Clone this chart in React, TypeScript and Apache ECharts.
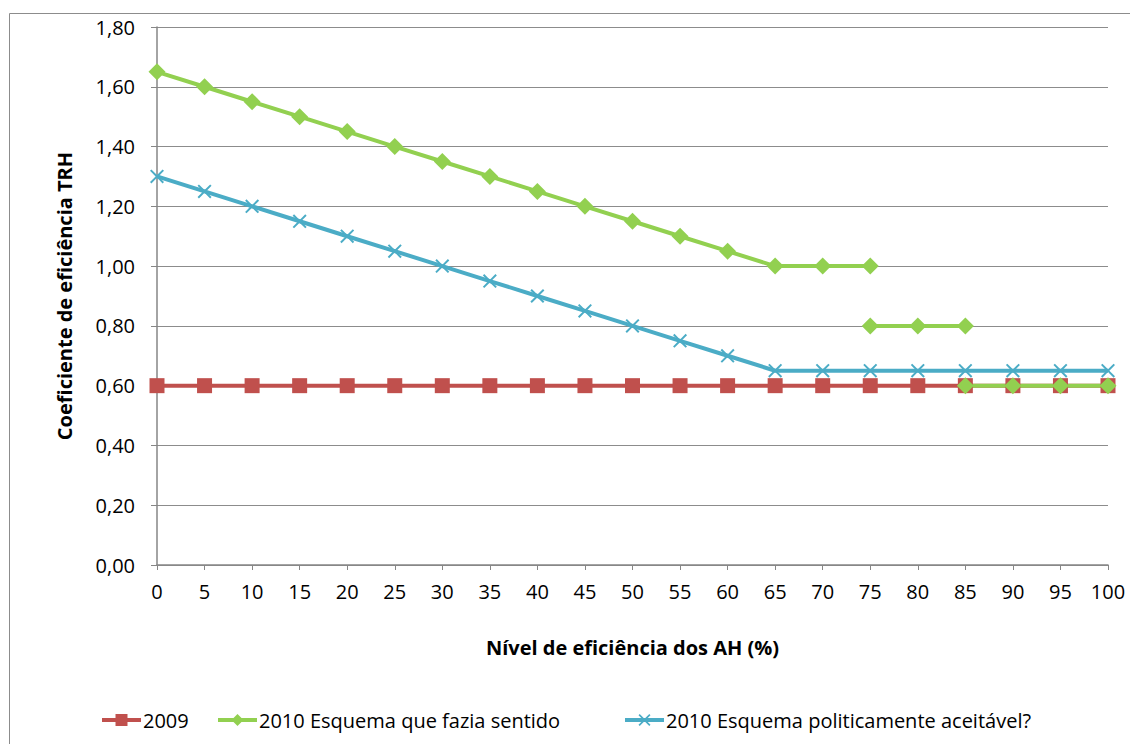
import React, { useEffect, useRef } from "react";
import * as echarts from "echarts";

const xLevels = [0, 5, 10, 15, 20, 25, 30, 35, 40, 45, 50, 55, 60, 65, 70, 75, 80, 85, 90, 95, 100];
const values2009 = [0.6, 0.6, 0.6, 0.6, 0.6, 0.6, 0.6, 0.6, 0.6, 0.6, 0.6, 0.6, 0.6, 0.6, 0.6, 0.6, 0.6, 0.6, 0.6, 0.6, 0.6];
// x values for the "fazia sentido" scheme (null = break in the line)
const sentidoX = [0, 5, 10, 15, 20, 25, 30, 35, 40, 45, 50, 55, 60, 65, 70, 75, 75, 75, 80, 85, 85, 85, 90, 95, 100];
const sentidoY: (number | null)[] = [1.65, 1.6, 1.55, 1.5, 1.45, 1.4, 1.35, 1.3, 1.25, 1.2, 1.15, 1.1, 1.05, 1.0, 1.0, 1.0, null, 0.8, 0.8, 0.8, null, 0.6, 0.6, 0.6, 0.6];
const aceitavelY = [1.3, 1.25, 1.2, 1.15, 1.1, 1.05, 1.0, 0.95, 0.9, 0.85, 0.8, 0.75, 0.7, 0.65, 0.65, 0.65, 0.65, 0.65, 0.65, 0.65, 0.65];
const seriesNames = ["2009", "2010 Esquema que fazia sentido", "2010 Esquema politicamente aceitável?"];
const yTicks = { min: 0, max: 1.8, interval: 0.2 };

const FONT = "'Open Sans', sans-serif";
const crossPath = "path://M0,1 L1,0 L5,4 L9,0 L10,1 L6,5 L10,9 L9,10 L5,6 L1,10 L0,9 L4,5 Z";
const legendLefts = [95, 211, 618];

export default function App() {
  const ref = useRef<HTMLDivElement>(null);
  useEffect(() => {
    const chart = echarts.init(ref.current!, null, { renderer: "svg" });
    const red = "#C0504D";
    const green = "#92D050";
    const blue = "#4BACC6";
    chart.setOption({
      animation: false,
      textStyle: { fontFamily: FONT },
      graphic: [
        {
          type: "rect",
          shape: { x: 9.5, y: 13.5, width: 1140, height: 760 },
          style: { fill: "none", stroke: "#8c8c8c", lineWidth: 1 },
          silent: true,
        },
      ],
      grid: { left: 157, right: 22, top: 27, bottom: 179 },
      legend: seriesNames.map((n, i) => ({
        data: [n],
        left: legendLefts[i],
        top: 705,
        itemWidth: 39,
        itemHeight: 15,
        lineStyle: { width: 4 },
        textStyle: { fontSize: 20, color: "#000", fontFamily: FONT, padding: [0, 0, 0, -3] },
      })),
      xAxis: {
        type: "value",
        min: 0,
        max: 100,
        interval: 5,
        name: "Nível de eficiência dos AH (%)",
        nameLocation: "middle",
        nameGap: 72,
        nameTextStyle: { fontSize: 20, fontWeight: "bold", color: "#000", fontFamily: FONT },
        axisLine: { lineStyle: { color: "#868686", width: 1.5 } },
        axisTick: { show: true, length: 5, lineStyle: { color: "#868686" } },
        axisLabel: { fontSize: 20, color: "#000", margin: 16, fontFamily: FONT },
        splitLine: { show: false },
      },
      yAxis: {
        type: "value",
        min: yTicks.min,
        max: yTicks.max,
        interval: yTicks.interval,
        name: "Coeficiente de eficiência TRH",
        nameLocation: "middle",
        nameGap: 83,
        nameTextStyle: { fontSize: 20, fontWeight: "bold", color: "#000", fontFamily: FONT },
        axisLine: { show: true, lineStyle: { color: "#868686", width: 1.5 } },
        axisTick: { show: true, length: 6, lineStyle: { color: "#868686" } },
        axisLabel: {
          fontSize: 20,
          color: "#000",
          margin: 22,
          fontFamily: FONT,
          formatter: (v: number) => v.toFixed(2).replace(".", ","),
        },
        splitLine: { show: true, lineStyle: { color: "#8c8c8c", width: 1.2 } },
      },
      series: [
        {
          name: seriesNames[0],
          type: "line",
          data: xLevels.map((x, i) => [x, values2009[i]]),
          symbol: "rect",
          symbolSize: 15,
          lineStyle: { color: red, width: 4 },
          itemStyle: { color: red },
        },
        {
          name: seriesNames[1],
          type: "line",
          data: sentidoX.map((x, i) => [x, sentidoY[i] === null ? "-" : sentidoY[i]]),
          connectNulls: false,
          symbol: "diamond",
          symbolSize: 17,
          lineStyle: { color: green, width: 4 },
          itemStyle: { color: green },
        },
        {
          name: seriesNames[2],
          type: "line",
          data: xLevels.map((x, i) => [x, aceitavelY[i]]),
          symbol: crossPath,
          symbolSize: 14,
          lineStyle: { color: blue, width: 4 },
          itemStyle: { color: blue },
        },
      ],
    });
    return () => chart.dispose();
  }, []);
  return <div ref={ref} style={{ position: "fixed", left: 0, top: 0, width: 1130, height: 744, background: "#fff" }} />;
}
